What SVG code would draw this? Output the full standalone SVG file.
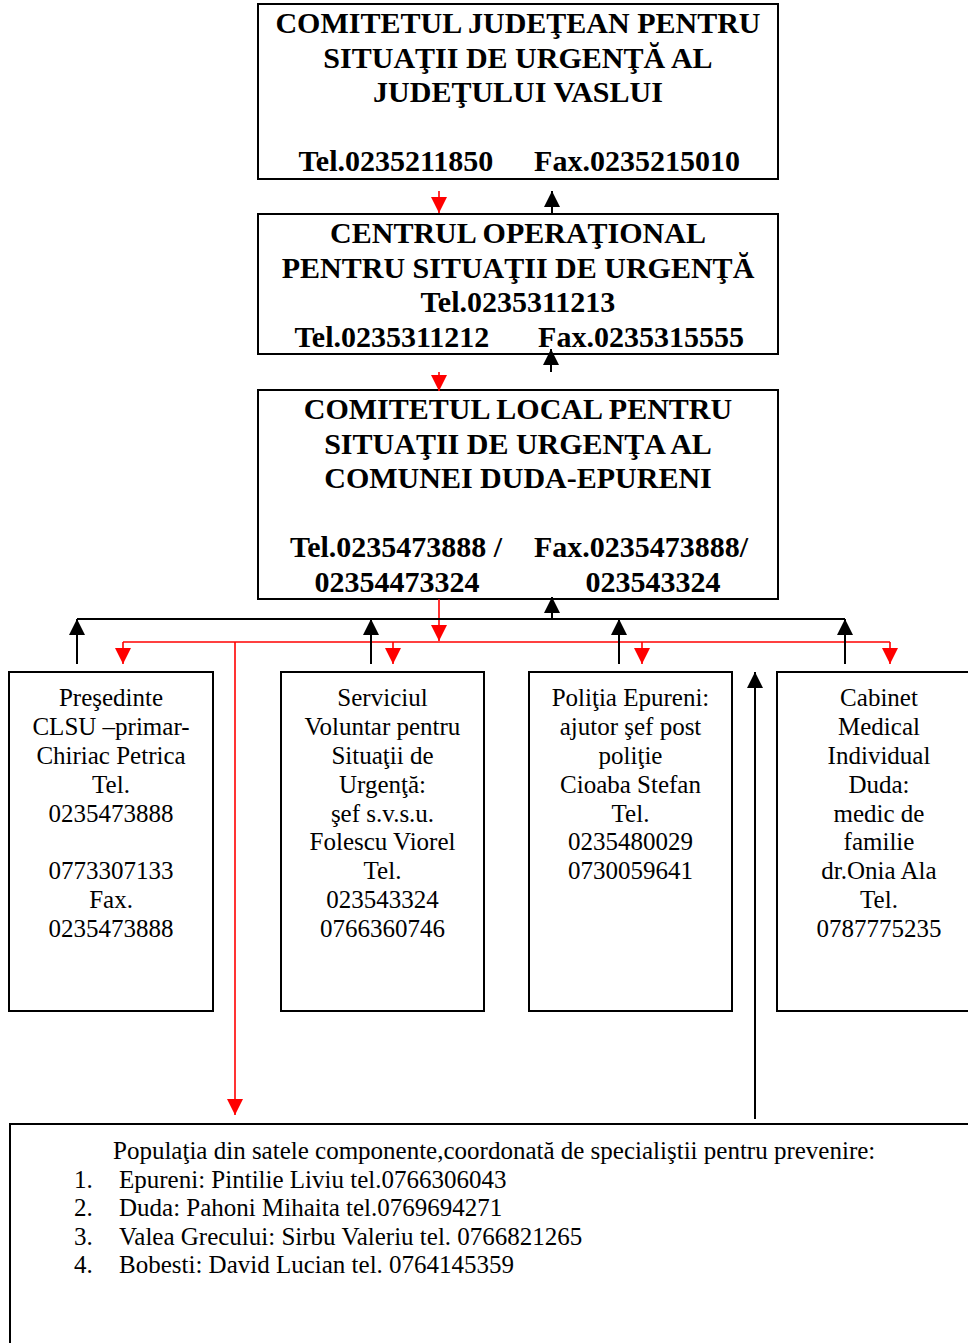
<svg xmlns="http://www.w3.org/2000/svg" width="968" height="1343" viewBox="0 0 968 1343">
<style>
.box{fill:#fff;stroke:#000;stroke-width:2}
.h{font-family:"Liberation Serif","Times New Roman",serif;font-weight:bold;font-size:30px;fill:#000;text-anchor:middle}
.t{font-family:"Liberation Serif","Times New Roman",serif;font-size:25px;fill:#000;text-anchor:middle}
.b{font-family:"Liberation Serif","Times New Roman",serif;font-size:25px;fill:#000}
.red{stroke:#ff0000;stroke-width:1.6;fill:none}
.blk{stroke:#000;stroke-width:2;fill:none}
</style>
<defs>
<marker id="ar" markerUnits="userSpaceOnUse" markerWidth="16" markerHeight="16" refX="14" refY="7" orient="auto" viewBox="0 0 14 14"><path d="M0,0 L14,7 L0,14 z" fill="#ff0000"/></marker>
<marker id="ab" markerUnits="userSpaceOnUse" markerWidth="16" markerHeight="16" refX="14" refY="7" orient="auto" viewBox="0 0 14 14"><path d="M0,0 L14,7 L0,14 z" fill="#000"/></marker>
</defs>
<rect width="968" height="1343" fill="#fff"/>
<g id="judetean">
<rect class="box" x="258" y="4" width="520" height="175"/>
<text class="h" x="518" y="33">COMITETUL JUDEŢEAN PENTRU</text>
<text class="h" x="518" y="68">SITUAŢII DE URGENŢĂ AL</text>
<text class="h" x="518" y="102">JUDEŢULUI VASLUI</text>
<text class="h" x="396" y="171">Tel.0235211850</text>
<text class="h" x="637" y="171">Fax.0235215010</text>
</g>
<g id="centrul">
<rect class="box" x="258" y="214" width="520" height="140"/>
<text class="h" x="518" y="243">CENTRUL OPERAŢIONAL</text>
<text class="h" x="518" y="278">PENTRU SITUAŢII DE URGENŢĂ</text>
<text class="h" x="518" y="312">Tel.0235311213</text>
<text class="h" x="392" y="347">Tel.0235311212</text>
<text class="h" x="641" y="347">Fax.0235315555</text>
</g>
<g id="local">
<rect class="box" x="258" y="390" width="520" height="209"/>
<text class="h" x="518" y="419">COMITETUL LOCAL PENTRU</text>
<text class="h" x="518" y="454">SITUAŢII DE URGENŢA AL</text>
<text class="h" x="518" y="488">COMUNEI DUDA-EPURENI</text>
<text class="h" x="396" y="557">Tel.0235473888 /</text>
<text class="h" x="641" y="557">Fax.0235473888/</text>
<text class="h" x="397" y="592">02354473324</text>
<text class="h" x="653" y="592">023543324</text>
</g>
<g id="presedinte">
<rect class="box" x="9" y="672" width="204" height="339"/>
<text class="t" x="111" y="706">Preşedinte</text>
<text class="t" x="111" y="735">CLSU –primar-</text>
<text class="t" x="111" y="764">Chiriac Petrica</text>
<text class="t" x="111" y="793">Tel.</text>
<text class="t" x="111" y="822">0235473888</text>
<text class="t" x="111" y="879">0773307133</text>
<text class="t" x="111" y="908">Fax.</text>
<text class="t" x="111" y="937">0235473888</text>
</g>
<g id="svsu">
<rect class="box" x="281" y="672" width="203" height="339"/>
<text class="t" x="382.5" y="706">Serviciul</text>
<text class="t" x="382.5" y="735">Voluntar pentru</text>
<text class="t" x="382.5" y="764">Situaţii de</text>
<text class="t" x="382.5" y="793">Urgenţă:</text>
<text class="t" x="382.5" y="822">şef s.v.s.u.</text>
<text class="t" x="382.5" y="850">Folescu Viorel</text>
<text class="t" x="382.5" y="879">Tel.</text>
<text class="t" x="382.5" y="908">023543324</text>
<text class="t" x="382.5" y="937">0766360746</text>
</g>
<g id="politia">
<rect class="box" x="529" y="672" width="203" height="339"/>
<text class="t" x="630.5" y="706">Poliţia Epureni:</text>
<text class="t" x="630.5" y="735">ajutor şef post</text>
<text class="t" x="630.5" y="764">poliţie</text>
<text class="t" x="630.5" y="793">Cioaba Stefan</text>
<text class="t" x="630.5" y="822">Tel.</text>
<text class="t" x="630.5" y="850">0235480029</text>
<text class="t" x="630.5" y="879">0730059641</text>
</g>
<g id="cabinet">
<rect class="box" x="777" y="672" width="210" height="339"/>
<text class="t" x="879" y="706">Cabinet</text>
<text class="t" x="879" y="735">Medical</text>
<text class="t" x="879" y="764">Individual</text>
<text class="t" x="879" y="793">Duda:</text>
<text class="t" x="879" y="822">medic de</text>
<text class="t" x="879" y="850">familie</text>
<text class="t" x="879" y="879">dr.Onia Ala</text>
<text class="t" x="879" y="908">Tel.</text>
<text class="t" x="879" y="937">0787775235</text>
</g>
<g id="populatia">
<rect class="box" x="10" y="1124" width="980" height="240"/>
<text class="b" x="113" y="1159">Populaţia din satele componente,coordonată de specialiştii pentru prevenire:</text>
<text class="b" x="74" y="1188">1.</text><text class="b" x="119" y="1188">Epureni: Pintilie Liviu tel.0766306043</text>
<text class="b" x="74" y="1216">2.</text><text class="b" x="119" y="1216">Duda: Pahoni Mihaita tel.0769694271</text>
<text class="b" x="74" y="1245">3.</text><text class="b" x="119" y="1245">Valea Grecului: Sirbu Valeriu tel. 0766821265</text>
<text class="b" x="74" y="1273">4.</text><text class="b" x="119" y="1273">Bobesti: David Lucian tel. 0764145359</text>
</g>
<g id="connectors">
<line class="red" x1="439" y1="191" x2="439" y2="213" marker-end="url(#ar)"/>
<line class="blk" x1="552" y1="213" x2="552" y2="191" marker-end="url(#ab)"/>
<line class="blk" x1="551" y1="372" x2="551" y2="349" marker-end="url(#ab)"/>
<line class="red" x1="439" y1="372" x2="439" y2="391" marker-end="url(#ar)"/>
<line class="red" x1="439" y1="599" x2="439" y2="641" marker-end="url(#ar)"/>
<polyline class="red" points="123,642 890,642"/>
<line class="red" x1="123" y1="642" x2="123" y2="664" marker-end="url(#ar)"/>
<line class="red" x1="393" y1="642" x2="393" y2="664" marker-end="url(#ar)"/>
<line class="red" x1="642" y1="642" x2="642" y2="664" marker-end="url(#ar)"/>
<line class="red" x1="890" y1="642" x2="890" y2="664" marker-end="url(#ar)"/>
<line class="red" x1="235" y1="642" x2="235" y2="1115" marker-end="url(#ar)"/>
<polyline class="blk" points="77,619 845,619"/>
<line class="blk" x1="77" y1="664" x2="77" y2="619" marker-end="url(#ab)"/>
<line class="blk" x1="371" y1="664" x2="371" y2="619" marker-end="url(#ab)"/>
<line class="blk" x1="619" y1="664" x2="619" y2="619" marker-end="url(#ab)"/>
<line class="blk" x1="845" y1="664" x2="845" y2="619" marker-end="url(#ab)"/>
<line class="blk" x1="552" y1="619" x2="552" y2="597" marker-end="url(#ab)"/>
<line class="blk" x1="755" y1="1119" x2="755" y2="672" marker-end="url(#ab)"/>
</g>
</svg>
